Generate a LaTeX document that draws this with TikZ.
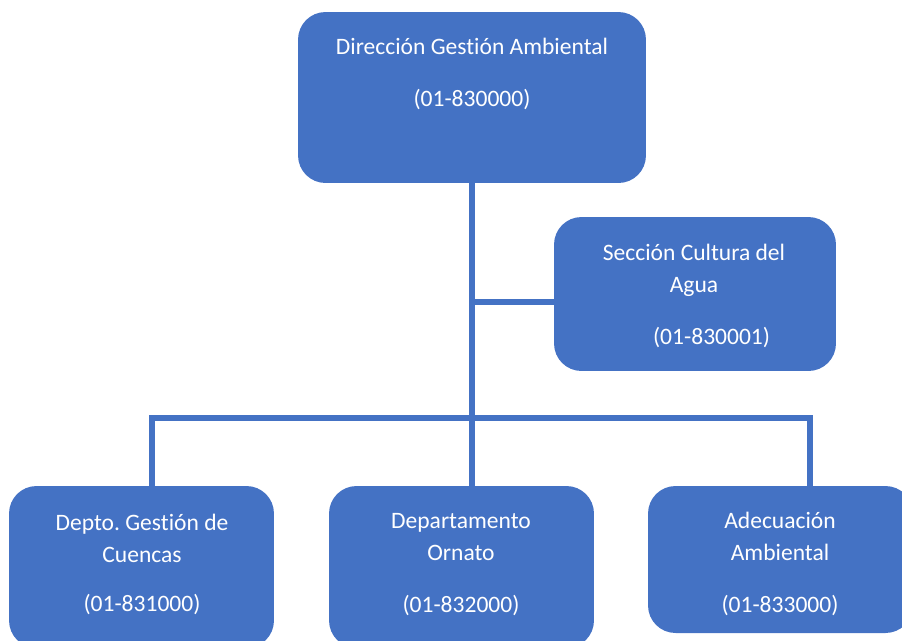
\documentclass[tikz,border=0pt]{standalone}
\usepackage{fontspec}
\setmainfont[Ligatures={NoCommon}]{Carlito}
\usetikzlibrary{positioning}
\definecolor{orgblue}{HTML}{4472C4}
\tikzset{
  unit/.style={rectangle, rounded corners=.55cm, fill=orgblue, draw=none},
  lbl/.style={text=white, align=center, inner sep=0pt,
    font=\fontsize{13.4}{18.2}\selectfont},
  link/.style={draw=orgblue, line width=.12cm},
}

\begin{document}
\begin{tikzpicture}[x=.02cm, y=-.02cm]
        \clip (0,0) rectangle (902,640);

        % boxes
        \node[unit, minimum width=6.96cm, minimum height=3.42cm] (dga) at (472,97.5) {};
        \node[unit, minimum width=5.64cm, minimum height=3.08cm] (cultura) at (695,294) {};
        \node[unit, minimum width=5.3cm, minimum height=3.24cm] (cuencas) at (141.5,567) {};
        \node[unit, minimum width=5.3cm, minimum height=3.24cm] (ornato) at (461.5,567) {};
        \node[unit, minimum width=5.3cm, minimum height=2.94cm] (adecuacion) at (780.5,559.5) {};

        % texts
        \node[lbl] (dga-t) at (472,73.5) {Dirección Gestión Ambiental\\[11.4pt](01-830000)};
        \node[lbl] (cultura-t) at (694,295.5) {Sección Cultura del\\Agua\\[11.4pt]\hspace*{20pt}(01-830001)};
        \node[lbl] (cuencas-t) at (142,564.5) {Depto.\ Gestión de\\Cuencas\\[10.2pt](01-831000)};
        \node[lbl] (ornato-t) at (461,564.5) {Departamento\\Ornato\\[11.4pt](01-832000)};
        \node[lbl] (adecuacion-t) at (780,563.5) {Adecuación\\Ambiental\\[11.4pt](01-833000)};

        % connectors
        \coordinate (jc) at (472,302);
        \coordinate (jl) at (152,418);
        \coordinate (jr) at (810,418);
        \draw[link] (dga.south) -- (dga.south |- ornato.north);
        \draw[link] (jc) -- (jc -| cultura.west);
        \draw[link] (jl |- cuencas.north) -- (jl) -- (jr) -- (jr |- adecuacion.north);
\end{tikzpicture}
\end{document}
